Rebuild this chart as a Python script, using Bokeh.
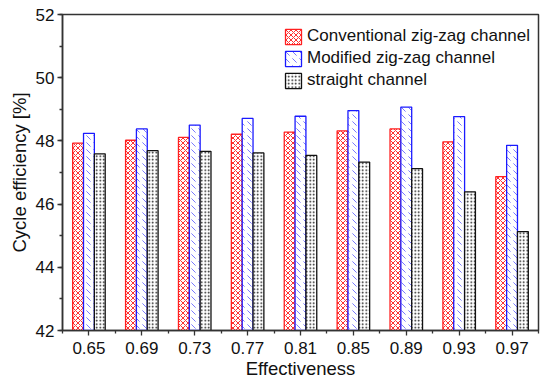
from bokeh.plotting import figure
from bokeh.models import Range1d, FixedTicker, SingleIntervalTicker, ColumnDataSource, Legend, LegendItem
from bokeh.transform import dodge
from bokeh.embed import file_html
from bokeh.resources import INLINE

categories = ["0.65", "0.69", "0.73", "0.77", "0.81", "0.85", "0.89", "0.93", "0.97"]
conventional = [47.93, 48.02, 48.11, 48.21, 48.28, 48.32, 48.38, 47.97, 46.87]
modified = [48.24, 48.38, 48.50, 48.71, 48.78, 48.96, 49.07, 48.77, 47.86]
straight = [47.59, 47.69, 47.67, 47.62, 47.54, 47.33, 47.12, 46.39, 45.13]
series_names = ["Conventional zig-zag channel", "Modified zig-zag channel", "straight channel"]

xpos = list(range(len(categories)))
src = ColumnDataSource(dict(x=xpos, conv=conventional, mod=modified, st=straight))

FONT = "Liberation Sans"
p = figure(width=550, height=383, output_backend="svg", toolbar_location=None,
           x_range=Range1d(-0.5, len(categories) - 0.5), y_range=Range1d(42, 52),
           min_border_left=62, min_border_right=12, min_border_top=14, min_border_bottom=53)

W = 0.205
r1 = p.vbar(x=dodge("x", -W, range=p.x_range), top="conv", bottom=42, width=W, source=src,
            fill_color="white", line_color="#ff2020", line_width=1.3,
            hatch_pattern="diagonal_cross", hatch_color="#ff3030", hatch_scale=5, hatch_weight=1)
r2 = p.vbar(x=dodge("x", 0, range=p.x_range), top="mod", bottom=42, width=W, source=src,
            fill_color="white", line_color="#1a1aff", line_width=1.3,
            hatch_pattern="left_diagonal_dash", hatch_color="#7a7aff", hatch_scale=7, hatch_weight=1)
r3 = p.vbar(x=dodge("x", W, range=p.x_range), top="st", bottom=42, width=W, source=src,
            fill_color="white", line_color="#111111", line_width=1.3,
            hatch_pattern="dot", hatch_color="#111111", hatch_scale=3.5, hatch_weight=1.2)

p.xgrid.visible = False
p.ygrid.visible = False
p.outline_line_color = "#333333"
p.outline_line_width = 1.5

xa = p.xaxis[0]
xa.ticker = FixedTicker(ticks=xpos, minor_ticks=[i - 0.5 for i in range(len(categories) + 1)])
xa.major_label_overrides = {i: c for i, c in enumerate(categories)}
xa.axis_label = "Effectiveness"

ya = p.yaxis[0]
ya.ticker = SingleIntervalTicker(interval=2, num_minor_ticks=2)
ya.axis_label = "Cycle efficiency [%]"

for ax in (xa, ya):
    ax.axis_line_color = "#333333"
    ax.axis_line_width = 1.5
    ax.major_tick_line_color = "#333333"
    ax.minor_tick_line_color = "#333333"
    ax.major_tick_line_width = 1.3
    ax.minor_tick_line_width = 1.3
    ax.major_tick_out = 5
    ax.major_tick_in = 0
    ax.minor_tick_out = 3
    ax.minor_tick_in = 0
    ax.major_label_text_font = FONT
    ax.major_label_text_font_size = "17px"
    ax.major_label_text_color = "#111111"
    ax.axis_label_text_font = FONT
    ax.axis_label_text_font_size = "18.5px"
    ax.axis_label_text_font_style = "normal"
    ax.axis_label_text_color = "#111111"
xa.major_label_standoff = 6
xa.axis_label_standoff = 1
ya.major_label_standoff = 3
ya.axis_label_standoff = 3

legend = Legend(items=[LegendItem(label=series_names[0], renderers=[r1]),
                       LegendItem(label=series_names[1], renderers=[r2]),
                       LegendItem(label=series_names[2], renderers=[r3])],
                location=(221, 240), padding=0, spacing=2, margin=0,
                glyph_width=20, glyph_height=19, label_height=19, label_standoff=4,
                label_text_font=FONT, label_text_font_size="17px", label_text_color="#111111",
                border_line_color=None, background_fill_alpha=0)
p.add_layout(legend)

open("out.html", "w").write(file_html(p, INLINE))
